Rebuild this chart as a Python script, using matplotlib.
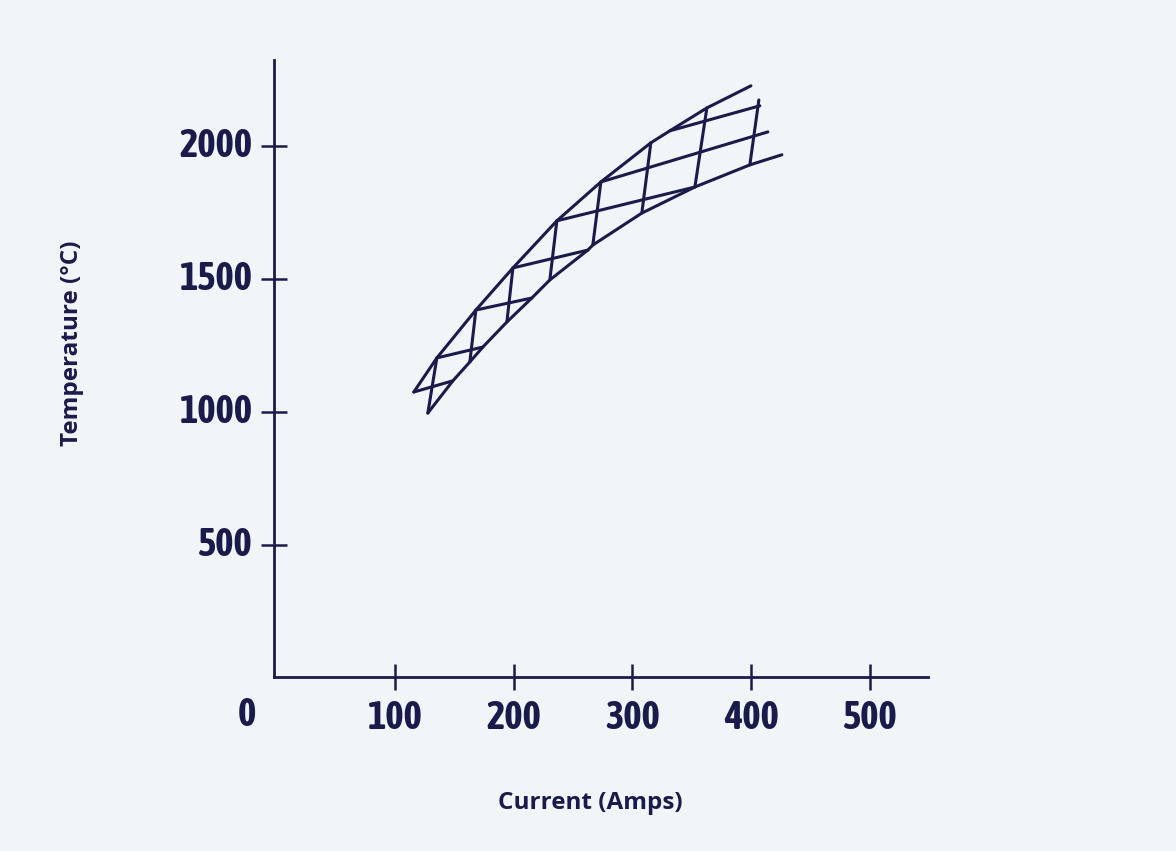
import matplotlib
matplotlib.use('Agg')
import matplotlib.pyplot as plt

# outline of the band (current in A, temperature in °C)
upper_x = [115.8, 135.2, 168.1, 199.3, 236.3, 273.4, 315.5, 331.5, 362.7, 399.8]
upper_y = [1076, 1204, 1384, 1542, 1719, 1865, 2012, 2057, 2143, 2226]
lower_x = [127.6, 148.7, 163.0, 174.0, 194.2, 215.2, 230.4, 262.4, 266.6, 307.9, 352.6, 398.9, 425.9]
lower_y = [997, 1118, 1189, 1245, 1339, 1429, 1497, 1609, 1628, 1748, 1846, 1929, 1967]

# hatching lines: ((x0, y0), (x1, y1))
shallow = [
    ((115.8, 1076), (148.7, 1118)),
    ((135.2, 1204), (174.0, 1245)),
    ((168.1, 1384), (215.2, 1429)),
    ((199.3, 1542), (262.4, 1609)),
    ((236.3, 1719), (352.6, 1846)),
    ((273.4, 1865), (414.1, 2053)),
    ((331.5, 2057), (407.3, 2151)),
]
steep = [
    ((127.6, 997), (135.2, 1204)),
    ((163.0, 1189), (168.1, 1384)),
    ((194.2, 1339), (199.3, 1542)),
    ((230.4, 1497), (236.3, 1719)),
    ((266.6, 1628), (273.4, 1865)),
    ((307.9, 1748), (315.5, 2012)),
    ((352.6, 1846), (362.7, 2143)),
    ((398.9, 1929), (406.5, 2173)),
]

x_ticks = [100, 200, 300, 400, 500]
y_ticks = [500, 1000, 1500, 2000]

ink = '#1b1b4b'
bg = '#f2f5f7'
num_font = ['Asap Condensed', 'Barlow Condensed', 'DejaVu Sans']
lab_font = ['Open Sans', 'DejaVu Sans']

fig = plt.figure(figsize=(11.76, 8.51), dpi=100, facecolor=bg)
ax = fig.add_axes([274 / 1176, 174 / 851, (928 - 274) / 1176, (677 - 60) / 851])
ax.set_facecolor(bg)

ax.plot(upper_x, upper_y, color=ink, lw=2.2, solid_capstyle='round')
ax.plot(lower_x, lower_y, color=ink, lw=2.2, solid_capstyle='round')
for (x0, y0), (x1, y1) in shallow + steep:
    ax.plot([x0, x1], [y0, y1], color=ink, lw=2.2, solid_capstyle='round')

ax.set_xlim(-2, 549)
ax.set_ylim(5.6, 2323)

for s in ['top', 'right']:
    ax.spines[s].set_visible(False)
for s in ['left', 'bottom']:
    ax.spines[s].set_color(ink)
    ax.spines[s].set_linewidth(2)

ax.set_xticks(x_ticks)
ax.set_yticks(y_ticks)
ax.set_xticklabels([str(v) for v in x_ticks])
ax.set_yticklabels([str(v) for v in y_ticks])
ax.tick_params(direction='inout', length=19, width=1.8, color=ink, labelcolor=ink)
ax.tick_params(axis='x', pad=6)
ax.tick_params(axis='y', pad=6)
for lbl in ax.get_xticklabels() + ax.get_yticklabels():
    lbl.set_fontfamily(num_font)
    lbl.set_fontweight('bold')
    lbl.set_fontsize(28)
for lbl in ax.get_yticklabels():
    lbl.set_verticalalignment('center')

ax.text(-25, -0.062, '0', transform=ax.get_xaxis_transform(), ha='center', va='center',
        fontfamily=num_font, fontweight='bold', fontsize=28, color=ink)

fig.text(72 / 1176, 1 - 343 / 851, 'Temperature (°C)', rotation=90, ha='center', va='center',
         fontfamily=lab_font, fontweight='bold', fontsize=17.5, color=ink)
fig.text(590 / 1176, 1 - 803 / 851, 'Current (Amps)', ha='center', va='center',
         fontfamily=lab_font, fontweight='bold', fontsize=17.5, color=ink)

fig.savefig('out.png', dpi=100, facecolor=bg)
